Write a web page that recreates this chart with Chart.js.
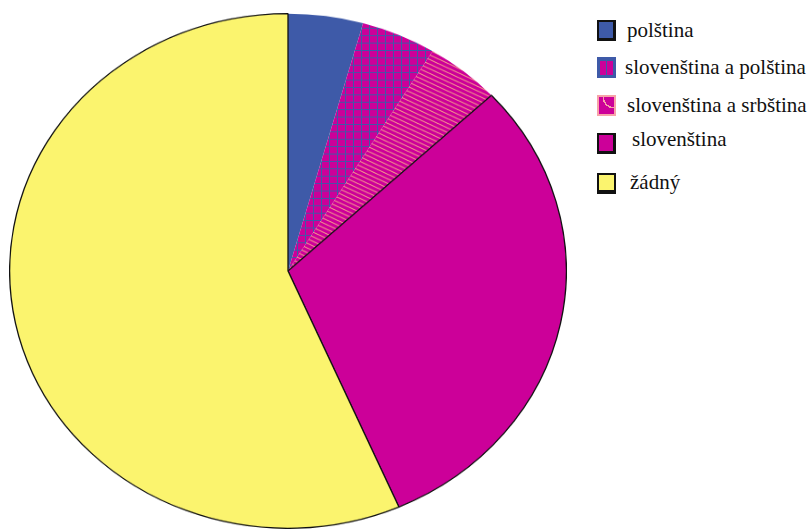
<!DOCTYPE html>
<html>
<head>
<meta charset="utf-8">
<script src="https://cdn.jsdelivr.net/npm/chart.js@4/dist/chart.umd.min.js"></script>
<style>
  html, body { margin: 0; padding: 0; background: #fff; }
  body { width: 812px; height: 529px; position: relative; overflow: hidden; }
  #pieWrap { position: absolute; left: 9px; top: 13px; width: 558px; height: 558px;
             transform: scaleY(0.9245); transform-origin: 0 0; }
  .item { position: absolute; font-family: "Liberation Serif", "DejaVu Serif", serif;
          font-size: 21px; line-height: 21px; color: #111; white-space: nowrap; }
  .box { position: absolute; box-sizing: border-box; width: 19px; height: 21px; }
</style>
</head>
<body>
<div id="pieWrap"><canvas id="pie" width="558" height="558"></canvas></div>
<div id="legend"></div>
<script>
// ---- data ----
const categories = ["polština", "slovenština a polština", "slovenština a srbština", "slovenština", "žádný"];
const counts = [1, 1, 1, 7, 13];

// ---- style ----
const BLUE = "#3E5AA8", MAGENTA = "#CC0099", YELLOW = "#FBF46E", SALMON = "#F59C8C";

function gridPattern() {
  const c = document.createElement("canvas"); c.width = 8; c.height = 8;
  const g = c.getContext("2d");
  g.fillStyle = MAGENTA; g.fillRect(0, 0, 8, 8);
  g.fillStyle = BLUE; g.fillRect(0, 0, 8, 1); g.fillRect(0, 0, 1, 8);
  return g.createPattern(c, "repeat");
}
function stripePattern() {
  const c = document.createElement("canvas"); c.width = 10; c.height = 5;
  const g = c.getContext("2d");
  g.fillStyle = MAGENTA; g.fillRect(0, 0, 10, 5);
  g.strokeStyle = SALMON; g.lineWidth = 1.1;
  for (const off of [-5, 0, 5]) { g.beginPath(); g.moveTo(0, off); g.lineTo(10, off + 5); g.stroke(); }
  return g.createPattern(c, "repeat");
}

const fills = [BLUE, gridPattern(), stripePattern(), MAGENTA, YELLOW];

new Chart(document.getElementById("pie"), {
  type: "pie",
  data: {
    labels: categories,
    datasets: [{
      data: counts,
      backgroundColor: fills,
      borderColor: ["#222", "#222", "#222", "#111", "#111"],
      borderWidth: [0, 0, 0, 1.3, 1.3],
      hoverOffset: 0
    }]
  },
  options: {
    responsive: false,
    animation: false,
    layout: { padding: 0 },
    plugins: { legend: { display: false }, tooltip: { enabled: false } }
  }
});

// ---- legend (HTML, real text) ----
const legendLayout = [
  { bx: 597, by: 20, tx: 627, ty: 20 },
  { bx: 597, by: 57, tx: 625, ty: 57 },
  { bx: 597, by: 95, tx: 627, ty: 95 },
  { bx: 597, by: 133, tx: 632, ty: 129 },
  { bx: 597, by: 173, tx: 630, ty: 172 }
];
const boxStyles = [
  "background:" + BLUE + ";border:2px solid #111;border-right-width:3px;border-bottom-width:3px;",
  "background:" + BLUE + ";background-image:linear-gradient(90deg," + MAGENTA + " 0 46%," + BLUE + " 46% 56%," + MAGENTA + " 56% 100%);background-size:13px 14px;background-position:3px 4px;background-repeat:no-repeat;",
  "background:" + MAGENTA + ";border:2px solid #F7A3A8;background-image:radial-gradient(circle at 100% 0%, transparent 0 10px, #F7A3A8 10px 11.5px, transparent 11.5px);",
  "background:" + MAGENTA + ";border:2px solid #111;border-right-width:3px;border-bottom-width:3px;",
  "background:" + YELLOW + ";border:2px solid #111;border-bottom-width:4px;"
];
const legend = document.getElementById("legend");
categories.forEach((label, i) => {
  const L = legendLayout[i];
  const b = document.createElement("div");
  b.className = "box"; b.style.cssText = boxStyles[i] + "left:" + L.bx + "px;top:" + L.by + "px;";
  legend.appendChild(b);
  const t = document.createElement("div");
  t.className = "item"; t.textContent = label;
  t.style.left = L.tx + "px"; t.style.top = L.ty + "px";
  legend.appendChild(t);
});
</script>
</body>
</html>
